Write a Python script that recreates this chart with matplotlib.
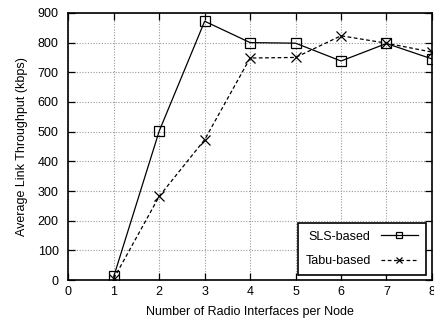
import matplotlib.pyplot as plt

# Data
interfaces = [1, 2, 3, 4, 5, 6, 7, 8]
sls_based = [12, 502, 872, 800, 798, 738, 797, 745]
tabu_based = [5, 282, 473, 748, 750, 823, 798, 768]

plt.rcParams['font.family'] = ['Liberation Sans', 'DejaVu Sans']
plt.rcParams['font.size'] = 9

fig = plt.figure(figsize=(4.35, 3.23), dpi=100)
ax = fig.add_axes([0.157, 0.133, 0.836, 0.827])

ax.plot(interfaces, sls_based, color='black', linewidth=0.9, linestyle='-',
        marker='s', markersize=7, markerfacecolor='none', markeredgewidth=0.9,
        label='SLS-based')
ax.plot(interfaces, tabu_based, color='black', linewidth=0.9, linestyle=(0, (3, 2)),
        marker='x', markersize=7, markeredgewidth=0.9, label='Tabu-based')

ax.set_xlim(0, 8)
ax.set_ylim(0, 900)
ax.set_xticks(range(0, 9))
ax.set_yticks(range(0, 901, 100))
ax.grid(True, color='#999999', linestyle=(0, (1, 1.5)), linewidth=0.8)
ax.tick_params(direction='in', top=True, right=True, length=5, width=0.9, pad=4)
ax.tick_params(axis='y', pad=7)
for s in ax.spines.values():
    s.set_linewidth(1.2)

ax.set_xlabel('Number of Radio Interfaces per Node', labelpad=6)
ax.set_ylabel('Average Link Throughput (kbps)', labelpad=7)

leg = ax.legend(loc='lower right', bbox_to_anchor=(1.0, -0.003), markerfirst=False,
                fancybox=False, framealpha=1, edgecolor='black', handlelength=3,
                borderpad=0.6, labelspacing=1.0, markerscale=0.7, fontsize=9)
leg.get_frame().set_linewidth(1.2)

fig.savefig('out.png', dpi=100)
